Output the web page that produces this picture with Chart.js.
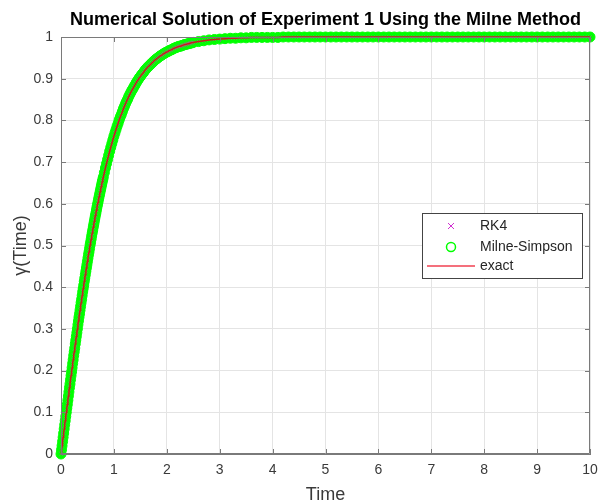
<!DOCTYPE html>
<html>
<head>
<meta charset="utf-8">
<script src="https://cdn.jsdelivr.net/npm/chart.js@4/dist/chart.umd.min.js"></script>
<style>
  body { margin: 0; background: #fff; }
</style>
</head>
<body>
<canvas id="myChart" width="598" height="504"></canvas>
<script>
//Time samples (fine in the steep part, coarser later):
const times = [
    0, 0.01, 0.02, 0.03, 0.04, 0.05, 0.06, 0.07, 0.08, 0.09,
    0.1, 0.11, 0.12, 0.13, 0.14, 0.15, 0.16, 0.17, 0.18, 0.19,
    0.2, 0.21, 0.22, 0.23, 0.24, 0.25, 0.26, 0.27, 0.28, 0.29,
    0.3, 0.31, 0.32, 0.33, 0.34, 0.35, 0.36, 0.37, 0.38, 0.39,
    0.4, 0.41, 0.42, 0.43, 0.44, 0.45, 0.46, 0.47, 0.48, 0.49,
    0.5, 0.51, 0.52, 0.53, 0.54, 0.55, 0.56, 0.57, 0.58, 0.59,
    0.6, 0.61, 0.62, 0.63, 0.64, 0.65, 0.66, 0.67, 0.68, 0.69,
    0.7, 0.71, 0.72, 0.73, 0.74, 0.75, 0.76, 0.77, 0.78, 0.79,
    0.8, 0.82, 0.84, 0.86, 0.88, 0.9, 0.92, 0.94, 0.96, 0.98,
    1, 1.02, 1.04, 1.06, 1.08, 1.1, 1.12, 1.14, 1.16, 1.18,
    1.2, 1.22, 1.24, 1.26, 1.28, 1.3, 1.32, 1.34, 1.36, 1.38,
    1.4, 1.42, 1.44, 1.46, 1.48, 1.5, 1.52, 1.54, 1.56, 1.58,
    1.6, 1.62, 1.64, 1.66, 1.68, 1.7, 1.72, 1.74, 1.76, 1.78,
    1.8, 1.82, 1.84, 1.86, 1.88, 1.9, 1.92, 1.94, 1.96, 1.98,
    2, 2.02, 2.04, 2.06, 2.08, 2.1, 2.12, 2.14, 2.16, 2.18,
    2.2, 2.22, 2.24, 2.26, 2.28, 2.3, 2.32, 2.34, 2.36, 2.38,
    2.4, 2.42, 2.44, 2.46, 2.48, 2.5,
    2.6, 2.7, 2.8, 2.9, 3, 3.1, 3.2, 3.3, 3.4, 3.5,
    3.6, 3.7, 3.8, 3.9, 4, 4.1,
    4.2, 4.3, 4.4, 4.5, 4.6, 4.7, 4.8, 4.9, 5, 5.1,
    5.2, 5.3, 5.4, 5.5, 5.6, 5.7, 5.8, 5.9, 6, 6.1,
    6.2, 6.3, 6.4, 6.5, 6.6, 6.7, 6.8, 6.9, 7, 7.1,
    7.2, 7.3, 7.4, 7.5, 7.6, 7.7, 7.8, 7.9, 8, 8.1,
    8.2, 8.3, 8.4, 8.5, 8.6, 8.7, 8.8, 8.9, 9, 9.1,
    9.2, 9.3, 9.4, 9.5, 9.6, 9.7, 9.8, 9.9, 10
];

//y(Time) of the exact curve:
const exactValues = [
    0, 0.010, 0.020, 0.030, 0.040, 0.050, 0.060, 0.070, 0.080, 0.090,
    0.100, 0.110, 0.119, 0.129, 0.139, 0.149, 0.159, 0.168, 0.178, 0.188,
    0.197, 0.207, 0.217, 0.226, 0.236, 0.245, 0.254, 0.264, 0.273, 0.282,
    0.291, 0.300, 0.310, 0.319, 0.328, 0.336, 0.345, 0.354, 0.363, 0.371,
    0.380, 0.389, 0.397, 0.405, 0.414, 0.422, 0.430, 0.438, 0.446, 0.454,
    0.462, 0.470, 0.478, 0.485, 0.493, 0.501, 0.508, 0.515, 0.523, 0.530,
    0.537, 0.544, 0.551, 0.558, 0.565, 0.572, 0.578, 0.585, 0.592, 0.598,
    0.604, 0.611, 0.617, 0.623, 0.629, 0.635, 0.641, 0.647, 0.653, 0.658,
    0.664, 0.675, 0.686, 0.696, 0.706, 0.716, 0.726, 0.735, 0.744, 0.753,
    0.762, 0.770, 0.778, 0.786, 0.793, 0.801, 0.808, 0.814, 0.821, 0.828,
    0.834, 0.840, 0.846, 0.851, 0.857, 0.862, 0.867, 0.872, 0.876, 0.881,
    0.885, 0.890, 0.894, 0.898, 0.902, 0.905, 0.909, 0.912, 0.915, 0.919,
    0.922, 0.925, 0.928, 0.930, 0.933, 0.935, 0.938, 0.940, 0.943, 0.945,
    0.947, 0.949, 0.951, 0.953, 0.955, 0.956, 0.958, 0.960, 0.961, 0.963,
    0.964, 0.965, 0.967, 0.968, 0.969, 0.970, 0.972, 0.973, 0.974, 0.975,
    0.976, 0.977, 0.978, 0.978, 0.979, 0.980, 0.981, 0.982, 0.982, 0.983,
    0.984, 0.984, 0.985, 0.986, 0.986, 0.987,
    0.989, 0.991, 0.993, 0.994, 0.995, 0.996, 0.997, 0.997, 0.998, 0.998,
    0.999, 0.999, 0.999, 0.999, 0.999, 0.999,
    1, 1, 1, 1, 1, 1, 1, 1, 1, 1,
    1, 1, 1, 1, 1, 1, 1, 1, 1, 1,
    1, 1, 1, 1, 1, 1, 1, 1, 1, 1,
    1, 1, 1, 1, 1, 1, 1, 1, 1, 1,
    1, 1, 1, 1, 1, 1, 1, 1, 1, 1,
    1, 1, 1, 1, 1, 1, 1, 1, 1
];

//The numerical solutions sit right on the exact curve in the picture:
const rk4Values = exactValues.slice();
const milneValues = exactValues.slice();

//Tick labels:
const xTicks = [0, 1, 2, 3, 4, 5, 6, 7, 8, 9, 10];
const yTicks = [0, 0.1, 0.2, 0.3, 0.4, 0.5, 0.6, 0.7, 0.8, 0.9, 1];

const seriesNames = ['RK4', 'Milne-Simpson', 'exact'];

const toPoints = vals => times.map((t, i) => ({ x: t, y: vals[i] }));

Chart.defaults.font.family = "'Liberation Sans', Arial, sans-serif";

//Box, inward ticks and the legend inside the axes (MATLAB look):
const matlabAxes = {
    id: 'matlabAxes',
    afterDatasetsDraw(chart) {
        const { ctx, chartArea: a, scales: { x, y } } = chart;
        ctx.save();
        ctx.strokeStyle = '#7a7a7a';
        ctx.lineWidth = 1;
        ctx.beginPath();
        ctx.rect(a.left + 0.5, a.top + 0.5, a.right - a.left - 1, a.bottom - a.top - 1);
        ctx.stroke();

        const tl = 5;
        ctx.beginPath();
        xTicks.forEach(v => {
            const px = Math.round(x.getPixelForValue(v)) + 0.5;
            ctx.moveTo(px, a.bottom); ctx.lineTo(px, a.bottom - tl);
            ctx.moveTo(px, a.top); ctx.lineTo(px, a.top + tl);
        });
        yTicks.forEach(v => {
            const py = Math.round(y.getPixelForValue(v)) + 0.5;
            ctx.moveTo(a.left, py); ctx.lineTo(a.left + tl, py);
            ctx.moveTo(a.right, py); ctx.lineTo(a.right - tl, py);
        });
        ctx.stroke();

        //legend
        const bw = 160, bh = 65;
        const bx = a.right - 8 - bw, by = a.top + 176;
        ctx.fillStyle = '#fff';
        ctx.fillRect(bx, by, bw, bh);
        ctx.strokeStyle = '#444';
        ctx.strokeRect(bx + 0.5, by + 0.5, bw, bh);

        const mx = bx + 29, tx = bx + 58;
        const rows = [by + 13, by + 34, by + 53];

        ctx.strokeStyle = '#d030d0';
        ctx.beginPath();
        ctx.moveTo(mx - 3, rows[0] - 3); ctx.lineTo(mx + 3, rows[0] + 3);
        ctx.moveTo(mx - 3, rows[0] + 3); ctx.lineTo(mx + 3, rows[0] - 3);
        ctx.stroke();

        ctx.strokeStyle = '#00ff00';
        ctx.lineWidth = 1.5;
        ctx.beginPath();
        ctx.arc(mx, rows[1], 4.5, 0, Math.PI * 2);
        ctx.stroke();

        ctx.strokeStyle = '#f04050';
        ctx.lineWidth = 1.5;
        ctx.beginPath();
        ctx.moveTo(bx + 5, rows[2]); ctx.lineTo(bx + 53, rows[2]);
        ctx.stroke();

        ctx.fillStyle = '#262626';
        ctx.font = "14px 'Liberation Sans', Arial, sans-serif";
        ctx.textBaseline = 'middle';
        seriesNames.forEach((name, i) => ctx.fillText(name, tx, rows[i]));
        ctx.restore();
    }
};

const ctx = document.getElementById('myChart').getContext('2d');

const chart = new Chart(ctx, {
    type: 'scatter',
    data: {
        datasets: [
            {
                label: seriesNames[2],
                data: toPoints(exactValues),
                showLine: true,
                borderColor: '#c81e1e',
                borderWidth: 1.5,
                pointRadius: 0,
                order: 0,
                clip: false
            },
            {
                label: seriesNames[0],
                data: toPoints(rk4Values),
                pointStyle: 'crossRot',
                pointRadius: 2.5,
                borderColor: 'rgba(220, 40, 200, 0.45)',
                borderWidth: 1,
                order: 1,
                clip: false
            },
            {
                label: seriesNames[1],
                data: toPoints(milneValues),
                pointStyle: 'circle',
                pointRadius: 5,
                backgroundColor: '#00ff00',
                borderColor: '#00ff00',
                borderWidth: 1,
                order: 2,
                clip: false
            }
        ]
    },
    options: {
        responsive: false,
        animation: false,
        layout: { padding: { left: 0, right: 0, top: 0, bottom: 0 } },
        plugins: {
            legend: { display: false },
            tooltip: { enabled: false },
            title: {
                display: true,
                fullSize: false,
                text: 'Numerical Solution of Experiment 1 Using the Milne Method',
                color: '#000',
                font: { size: 18, weight: 'bold', lineHeight: 1.2 },
                padding: { top: 9, bottom: 6.4 }
            }
        },
        scales: {
            x: {
                type: 'linear',
                min: 0,
                max: 10,
                afterBuildTicks: s => { s.ticks = xTicks.map(v => ({ value: v })); },
                afterFit: s => { s.height = 50; s.paddingLeft = 0; s.paddingRight = 8; },
                grid: { color: '#e4e4e4', drawTicks: false },
                border: { color: '#7a7a7a' },
                ticks: { color: '#3a3a3a', font: { size: 14 }, padding: 8, maxRotation: 0 },
                title: {
                    display: true, text: 'Time', color: '#3a3a3a',
                    font: { size: 18, lineHeight: 1 }, padding: { top: 0, bottom: 0 }
                }
            },
            y: {
                min: 0,
                max: 1,
                afterBuildTicks: s => { s.ticks = yTicks.map(v => ({ value: v })); },
                afterFit: s => { s.width = 61; },
                grid: { color: '#e4e4e4', drawTicks: false },
                border: { color: '#7a7a7a' },
                ticks: { color: '#3a3a3a', font: { size: 14 }, padding: 8, callback: v => String(v) },
                title: {
                    display: true, text: 'γ(Time)', color: '#3a3a3a',
                    font: { size: 18, lineHeight: 1 }, padding: { top: 12, bottom: 0 }
                }
            }
        }
    },
    plugins: [matlabAxes]
});
</script>
</body>
</html>
